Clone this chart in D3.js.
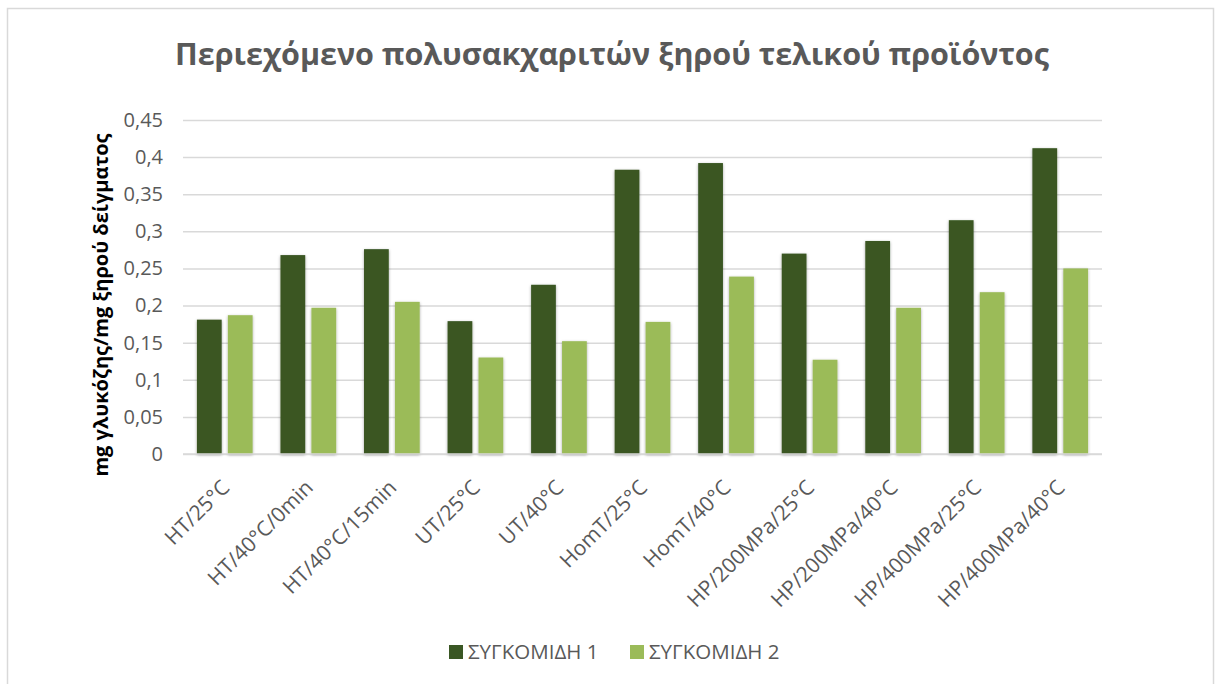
<!DOCTYPE html>
<html>
<head>
<meta charset="utf-8">
<script src="https://cdn.jsdelivr.net/npm/d3@7"></script>
<style>
  html, body { margin: 0; padding: 0; background: #fff; }
  svg { display: block; font-family: "Open Sans", "Noto Sans", sans-serif; }
</style>
</head>
<body>
<svg id="chart" width="1216" height="684"></svg>
<script>
// Treatments (x categories)
const categories = [
  "HT/25°C", "HT/40°C/0min", "HT/40°C/15min", "UT/25°C", "UT/40°C",
  "HomT/25°C", "HomT/40°C", "HP/200MPa/25°C", "HP/200MPa/40°C",
  "HP/400MPa/25°C", "HP/400MPa/40°C"
];
// Harvest series
const seriesNames = ["ΣΥΓΚΟΜΙΔΗ 1", "ΣΥΓΚΟΜΙΔΗ 2"];
const harvest1 = [0.181, 0.268, 0.276, 0.179, 0.228, 0.383, 0.392, 0.270, 0.287, 0.315, 0.412];
const harvest2 = [0.187, 0.197, 0.205, 0.130, 0.152, 0.178, 0.239, 0.127, 0.197, 0.218, 0.250];
const yTicks = [0, 0.05, 0.1, 0.15, 0.2, 0.25, 0.3, 0.35, 0.4, 0.45];
const colors = ["#3A5724", "#9BBB59"];

const svg = d3.select("#chart");
const plot = { left: 183, right: 1102, top: 120, bottom: 454 };

// Outer chart frame
svg.append("rect")
  .attr("x", 7.5).attr("y", 8.5)
  .attr("width", 1206).attr("height", 700)
  .attr("fill", "#fff").attr("stroke", "#d9d9d9").attr("stroke-width", 1.5);

// Title
svg.append("text")
  .attr("x", 612).attr("y", 65)
  .attr("text-anchor", "middle")
  .attr("font-size", 30.5).attr("font-weight", "bold")
  .attr("fill", "#595959")
  .text("Περιεχόμενο πολυσακχαριτών ξηρού τελικού προϊόντος");

const x = d3.scaleBand().domain(categories).range([plot.left, plot.right]).paddingInner(0).paddingOuter(0);
const x1 = d3.scaleBand().domain(seriesNames).range([0, x.bandwidth()]).paddingInner(0.2).paddingOuter(0.45);
const y = d3.scaleLinear().domain([0, 0.45]).range([plot.bottom, plot.top]);

const fmt = d => String(d).replace(".", ",");

// Gridlines and y tick labels
const yAxis = d3.axisLeft(y).tickValues(yTicks).tickSize(-(plot.right - plot.left)).tickFormat(fmt).tickPadding(20);
const gy = svg.append("g").attr("transform", `translate(${plot.left},0)`).call(yAxis);
gy.select(".domain").remove();
gy.selectAll(".tick line").attr("stroke", "#d9d9d9").attr("stroke-width", 1.5);
gy.selectAll(".tick text").attr("font-size", 20).attr("fill", "#595959")
  .attr("font-family", "Open Sans, sans-serif");

// Bar shadow filter
const defs = svg.append("defs");
const f = defs.append("filter").attr("id", "shadow").attr("x", "-30%").attr("y", "-10%").attr("width", "160%").attr("height", "120%");
f.append("feDropShadow").attr("dx", 0).attr("dy", 1).attr("stdDeviation", 1.5).attr("flood-color", "#000").attr("flood-opacity", 0.35);

// Bars
const rows = categories.map((c, i) => ({ c, vals: [harvest1[i], harvest2[i]] }));
const groups = svg.append("g").selectAll("g").data(rows).join("g")
  .attr("transform", d => `translate(${x(d.c)},0)`);
groups.selectAll("rect").data(d => d.vals.map((v, k) => ({ k, v }))).join("rect")
  .attr("x", d => x1(seriesNames[d.k]))
  .attr("width", x1.bandwidth())
  .attr("y", d => y(d.v))
  .attr("height", d => y(0) - y(d.v))
  .attr("fill", d => colors[d.k])
  .attr("filter", "url(#shadow)");

// Baseline
svg.append("line").attr("x1", plot.left).attr("x2", plot.right)
  .attr("y1", y(0)).attr("y2", y(0)).attr("stroke", "#d9d9d9").attr("stroke-width", 1.5);

// X axis labels, rotated
const xAxis = d3.axisBottom(x).tickSize(0).tickPadding(0);
const gx = svg.append("g").attr("transform", `translate(0,${plot.bottom})`).call(xAxis);
gx.select(".domain").remove();
gx.selectAll(".tick text")
  .attr("font-size", 21).attr("fill", "#595959").attr("font-family", "Open Sans, sans-serif")
  .attr("text-anchor", "end")
  .attr("dy", 0).attr("y", 0)
  .attr("transform", "translate(6,35) rotate(-45)");

// Y axis title
svg.append("text")
  .attr("transform", `translate(108,305) rotate(-90)`)
  .attr("text-anchor", "middle")
  .attr("font-size", 20).attr("font-weight", "bold").attr("fill", "#000")
  .text("mg γλυκόζης/mg ξηρού δείγματος");

// Legend
const legend = svg.append("g");
const legendX = [449, 630];
seriesNames.forEach((name, k) => {
  legend.append("rect").attr("x", legendX[k]).attr("y", 645).attr("width", 14).attr("height", 14).attr("fill", colors[k]);
  legend.append("text").attr("x", legendX[k] + 19).attr("y", 659)
    .attr("font-size", 20.5).attr("fill", "#595959").text(name);
});
</script>
</body>
</html>
